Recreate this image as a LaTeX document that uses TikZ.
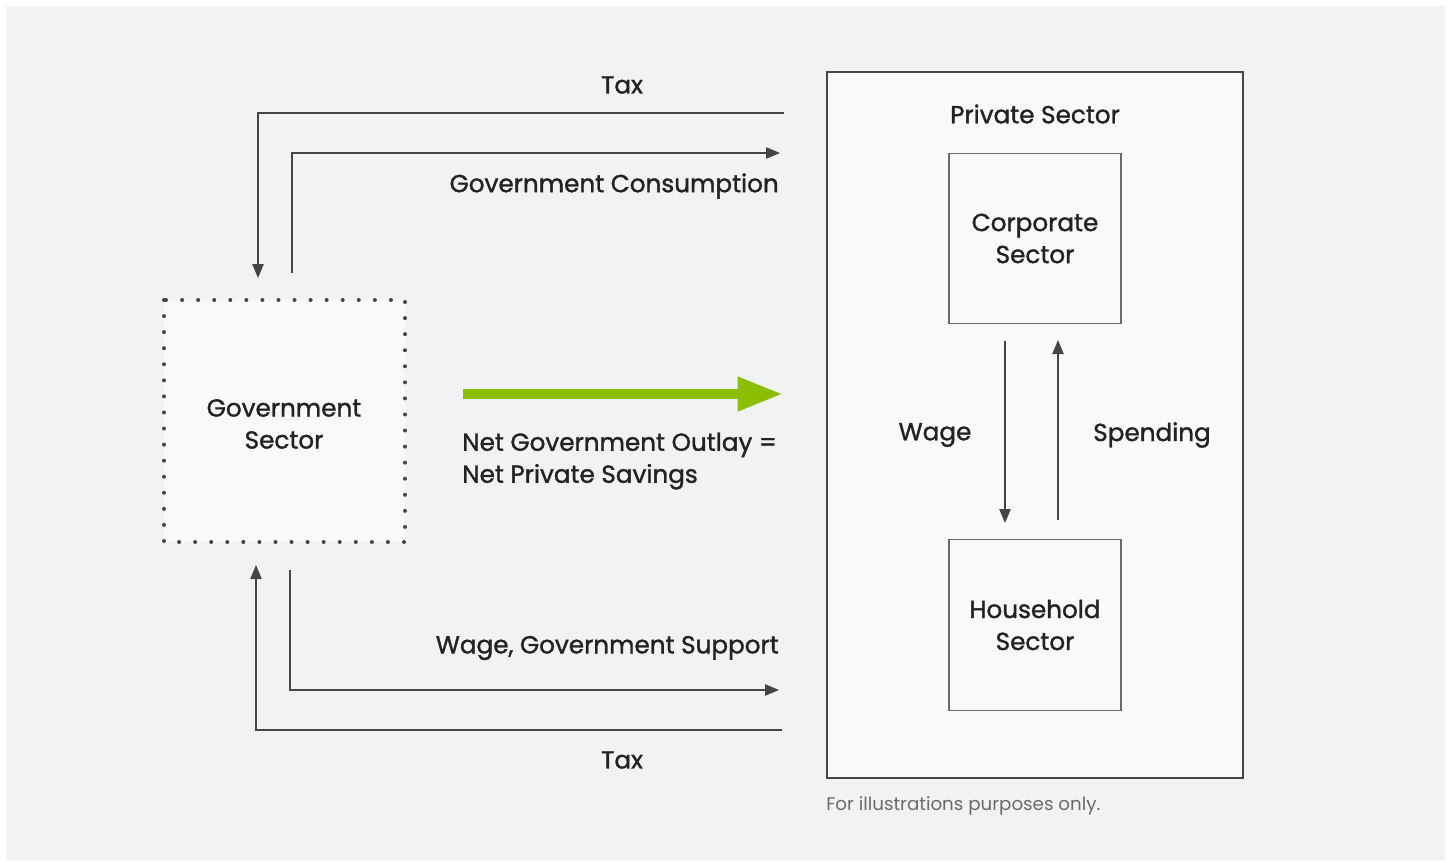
\documentclass[tikz,border=0pt]{standalone}
\usepackage{fontspec}
\setmainfont{Poppins}
\newfontfamily\labelfont[FakeBold=1.3]{Poppins}
\usetikzlibrary{arrows.meta}
\definecolor{bgray}{HTML}{F1F2F4}
\definecolor{boxfill}{HTML}{F9F9F9}
\definecolor{ink}{HTML}{454545}
\definecolor{txt}{HTML}{222222}
\definecolor{note}{HTML}{6A6A6A}
\definecolor{lime}{HTML}{8CBE00}
\tikzset{
  flow/.style={draw=ink, line width=1pt, -{Triangle[length=10.5pt,width=8.5pt]}},
  lbl/.style={font=\labelfont\fontsize{18.5}{24}\selectfont, text=txt, inner sep=0pt},
  boxlbl/.style={font=\labelfont\fontsize{18.5}{24}\selectfont, text=txt, align=center, inner sep=0pt},
  subbox/.style={draw=ink!80, fill=boxfill, line width=0.9pt, minimum width=129pt, minimum height=128pt, inner sep=0pt, align=center, font=\labelfont\fontsize{18.5}{24}\selectfont, text=txt},
}
\begin{document}
\begin{tikzpicture}[x=0.75pt,y=-0.75pt]
\useasboundingbox (0,0) rectangle (1449,863);
\fill[white] (0,0) rectangle (1449,863);
\fill[bgray] (6,6) rectangle (1445,860);
% government sector
\fill[boxfill] (164,300) rectangle (405,542);
\draw[ink, line width=3pt, line cap=round, dash pattern=on 0pt off 12.05pt] (164,300) rectangle (405,542);
\node[boxlbl] (gov) at (284,424) {Government\\Sector};
% private sector
\node[draw=ink, line width=1.5pt, fill=boxfill, minimum width=312pt, minimum height=529.5pt, inner sep=0pt] (priv) at (1035,425) {};
\node[lbl] (privlbl) at (1035,114) {Private Sector};
\node[subbox] (corp) at (1035,238.5) {Corporate\\Sector};
\node[subbox] (house) at (1035,625) {Household\\Sector};
% internal arrows
\coordinate (w1) at (1005,341);
\coordinate (w2) at (1005,523);
\coordinate (s1) at (1058,520);
\coordinate (s2) at (1058,340);
\draw[flow] (w1) -- (w2);
\draw[flow] (s1) -- (s2);
\node[lbl] (wage) at (935,435) {Wage};
\node[lbl] (spend) at (1152,435) {Spending};
% top flows
\coordinate (t1) at (784,113);
\coordinate (t2) at (258,113);
\coordinate (t3) at (258,278);
\draw[flow] (t1) -- (t2) -- (t3);
\node[lbl] (taxtop) at (622,85) {Tax};
\coordinate (c1) at (292,273);
\coordinate (c2) at (292,153);
\coordinate (c3) at (780,153);
\draw[flow] (c1) -- (c2) -- (c3);
\node[lbl, anchor=east] (cons) at (779,186) {Government Consumption};
% bottom flows
\coordinate (b1) at (290,570);
\coordinate (b2) at (290,690);
\coordinate (b3) at (779,690);
\draw[flow] (b1) -- (b2) -- (b3);
\node[lbl, anchor=east] (supp) at (779,648) {Wage, Government Support};
\coordinate (d1) at (782,730);
\coordinate (d2) at (256,730);
\coordinate (d3) at (256,565);
\draw[flow] (d1) -- (d2) -- (d3);
\node[lbl] (taxbot) at (622,760) {Tax};
% green arrow
\coordinate (g1) at (463,394);
\coordinate (g2) at (783,394);
\draw[draw=lime, line width=7.5pt, -{Triangle[length=34pt,width=24pt]}] (g1) -- (g2);
\node[lbl, anchor=west, align=left] (net) at (462,461) {Net Government Outlay =\\Net Private Savings};
% footnote
\node[font=\fontsize{13.7}{18}\selectfont, text=note, anchor=west, inner sep=0pt] (fn) at (826,806) {For illustrations purposes only.};
\end{tikzpicture}
\end{document}
